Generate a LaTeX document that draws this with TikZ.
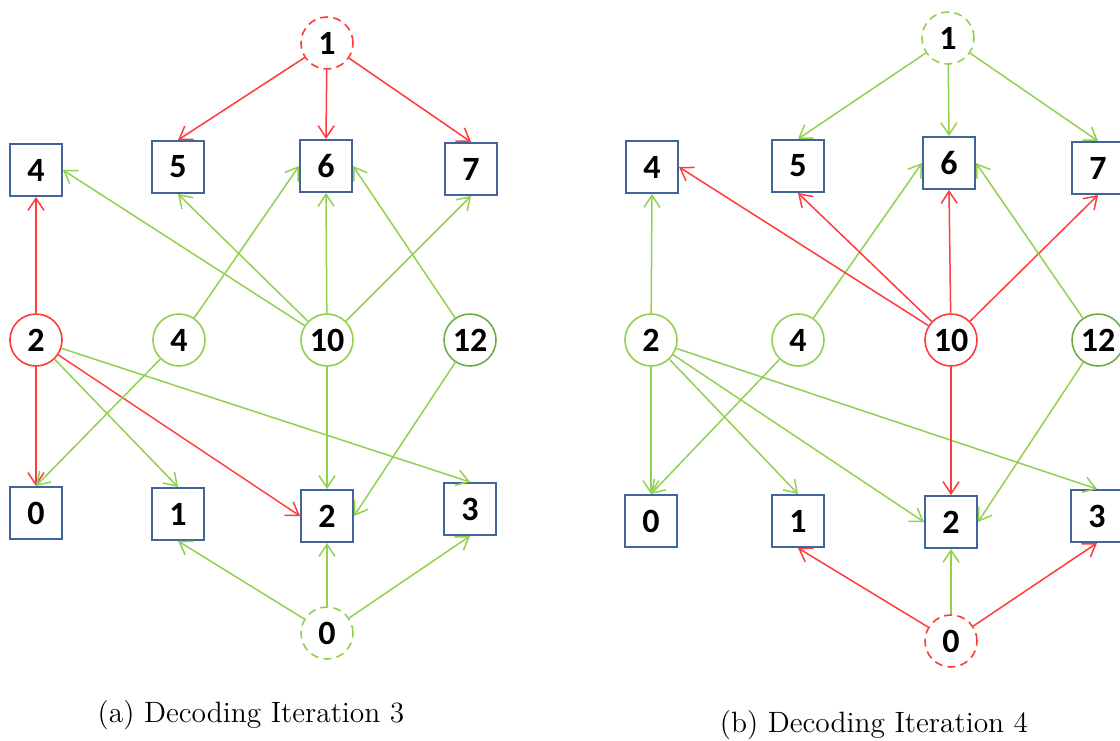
\documentclass[tikz,border=0pt]{standalone}
\usepackage{fontspec}
\newfontfamily\numfont{Carlito}
\usetikzlibrary{arrows.meta}
\definecolor{edgered}{HTML}{FF3B3B}
\definecolor{edgegreen}{HTML}{92D050}
\definecolor{darkgreen}{HTML}{70AD47}
\definecolor{boxblue}{HTML}{41659A}
\tikzset{
  varbox/.style={draw=boxblue, line width=1pt, minimum width=26pt, minimum height=26pt,
    inner sep=0pt, font=\numfont\bfseries\fontsize{17}{20}\selectfont},
  chk/.style={circle, line width=0.8pt, minimum size=26pt, inner sep=0pt,
    font=\numfont\bfseries\fontsize{17}{20}\selectfont},
  chkred/.style={chk, draw=edgered},
  chkgreen/.style={chk, draw=edgegreen},
  chkdark/.style={chk, draw=darkgreen},
  dashcirc/.style={dash pattern=on 4pt off 2.6pt},
  edge/.style={line width=0.75pt, -{Straight Barb[length=6pt,width=8pt,line width=0.75pt]}},
  re/.style={edge, draw=edgered},
  ge/.style={edge, draw=edgegreen},
  caption/.style={font=\fontsize{14.7}{17}\selectfont}
}
\begin{document}
\begin{tikzpicture}[x=0.5pt, y=-0.5pt]
\useasboundingbox (0,0) rectangle (1120,740);

% ---------- (a) iteration 3 ----------
\node[chkred, dashcirc] (a1) at (327,43) {1};
\node[varbox] (a4) at (36,170) {4};
\node[varbox] (a5) at (178,167) {5};
\node[varbox] (a6) at (326,166) {6};
\node[varbox] (a7) at (471,169) {7};
\node[chkred] (ac2) at (36,340) {2};
\node[chkgreen] (ac4) at (179,340) {4};
\node[chkgreen] (ac10) at (327,340) {10};
\node[chkdark] (ac12) at (470,340) {12};
\node[varbox] (a0b) at (36,513) {0};
\node[varbox] (a1b) at (178,514) {1};
\node[varbox] (a2b) at (327,516) {2};
\node[varbox] (a3b) at (470,509) {3};
\node[chkgreen, dashcirc] (a0) at (327,633) {0};

\draw[re] (a1) -- (a5.north);
\draw[re] (a1) -- (a6.north);
\draw[re] (a1) -- (a7.north);
\draw[re] (ac2) -- (a4.south);
\draw[ge] (ac4) -- (a6.west);
\draw[ge] (ac10) -- (a4.east);
\draw[ge] (ac10) -- (a5.south);
\draw[ge] (ac10) -- (a6.south);
\draw[ge] (ac10) -- (a7.south);
\draw[ge] (ac12) -- (a6.east);
\draw[re] (ac2) -- (a0b.north);
\draw[ge] (ac2) -- (a1b.north);
\draw[re] (ac2) -- (a2b.west);
\draw[ge] (ac2) -- (a3b.north);
\draw[ge] (ac4) -- (a0b.north);
\draw[ge] (ac10) -- (a2b.north);
\draw[ge] (ac12) -- (a2b.east);
\draw[ge] (a0) -- (a1b.south);
\draw[ge] (a0) -- (a2b.south);
\draw[ge] (a0) -- (a3b.south);

\node[caption] (capa) at (251,715) {(a) Decoding Iteration 3};

% ---------- (b) iteration 4 ----------
\node[chkgreen, dashcirc] (b1) at (948,38) {1};
\node[varbox] (b4) at (652,167) {4};
\node[varbox] (b5) at (798,166) {5};
\node[varbox] (b6) at (949,163) {6};
\node[varbox] (b7) at (1098,168) {7};
\node[chkgreen] (bc2) at (651,340) {2};
\node[chkgreen] (bc4) at (798,340) {4};
\node[chkred] (bc10) at (951,340) {10};
\node[chkdark] (bc12) at (1098,340) {12};
\node[varbox] (b0b) at (651,521) {0};
\node[varbox] (b1b) at (798,521) {1};
\node[varbox] (b2b) at (951,522) {2};
\node[varbox] (b3b) at (1097,516) {3};
\node[chkred, dashcirc] (b0) at (951,641) {0};

\draw[ge] (b1) -- (b5.north);
\draw[ge] (b1) -- (b6.north);
\draw[ge] (b1) -- (b7.north);
\draw[ge] (bc2) -- (b4.south);
\draw[ge] (bc4) -- (b6.west);
\draw[re] (bc10) -- (b4.east);
\draw[re] (bc10) -- (b5.south);
\draw[re] (bc10) -- (b6.south);
\draw[re] (bc10) -- (b7.south);
\draw[ge] (bc12) -- (b6.east);
\draw[ge] (bc2) -- (b0b.north);
\draw[ge] (bc2) -- (b1b.north);
\draw[ge] (bc2) -- (b2b.west);
\draw[ge] (bc2) -- (b3b.north);
\draw[ge] (bc4) -- (b0b.north);
\draw[re] (bc10) -- (b2b.north);
\draw[ge] (bc12) -- (b2b.east);
\draw[re] (b0) -- (b1b.south);
\draw[ge] (b0) -- (b2b.south);
\draw[re] (b0) -- (b3b.south);

\node[caption] (capb) at (874,725) {(b) Decoding Iteration 4};
\end{tikzpicture}
\end{document}
